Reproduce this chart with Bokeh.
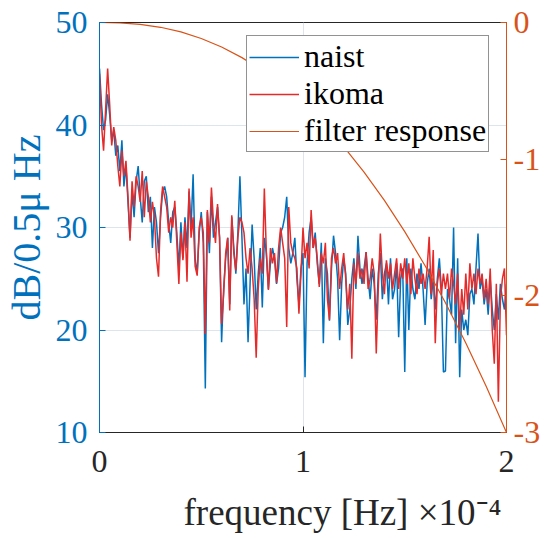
from bokeh.plotting import figure
from bokeh.models import Range1d, LinearAxis, Legend, LegendItem, Title, FixedTicker
from bokeh.embed import file_html
from bokeh.resources import INLINE

# ---------------- data ----------------
# frequency axis in units of 1e-4 Hz, one sample every 0.01
freq = [round(i * 0.01, 2) for i in range(201)]

naist = [
    45.5, 42.0, 39.5, 40.5, 43.0, 41.0, 38.5, 39.5, 37.0, 38.0,
    35.5, 38.5, 34.0, 36.0, 32.5, 29.0, 33.5, 31.0, 34.5, 36.0,
    33.0, 30.5, 34.5, 35.0, 31.5, 33.0, 28.0, 32.0, 30.5, 27.5,
    31.0, 33.5, 34.0, 33.0, 30.5, 28.5, 31.5, 32.0, 29.5, 26.0,
    30.5, 27.0, 31.0, 28.0, 33.5, 30.0, 35.2, 27.0, 25.5, 29.5,
    31.5, 28.5, 14.3, 31.5, 27.5, 33.0, 29.0, 30.5, 32.0, 29.0,
    18.8, 24.0, 27.0, 29.0, 22.5, 31.0, 28.0, 25.5, 29.5, 35.0,
    29.0, 22.5, 26.0, 18.8, 24.5, 30.3, 27.0, 22.0, 25.5, 28.0,
    22.2, 29.0, 27.5, 24.0, 26.5, 28.0, 27.0, 24.5, 26.0, 29.5,
    30.0, 31.0, 33.0, 28.0, 26.5, 27.5, 29.0, 25.0, 22.5, 26.0,
    27.5, 15.4, 26.5, 29.5, 31.0, 28.0, 29.5, 26.5, 24.5, 28.5,
    18.7, 27.0, 25.5, 20.9, 26.0, 29.2, 27.5, 25.0, 19.0, 24.5,
    27.0, 25.5, 20.5, 22.0, 25.0, 27.0, 24.0, 29.2, 26.0, 24.5,
    26.0, 27.6, 25.0, 23.0, 26.0, 24.5, 21.0, 25.5, 27.5, 23.0,
    25.5, 26.5, 22.5, 27.0, 23.0, 24.0, 26.5, 19.3, 25.0, 26.0,
    15.9, 27.0, 20.0, 26.0, 24.0, 23.0, 25.5, 24.0, 26.5, 24.0,
    20.5, 24.5, 26.0, 23.0, 25.0, 22.0, 25.0, 27.0, 24.0, 15.9,
    16.0, 24.0, 23.0, 21.5, 30.0, 18.7, 27.0, 15.4, 22.0, 20.0,
    21.0, 19.5, 23.5, 24.0, 22.5, 26.0, 29.4, 24.0, 25.0, 22.5,
    24.0, 21.5, 25.0, 22.0, 20.0, 23.5, 21.0, 24.5, 23.0, 22.0,
    24.5,
]

ikoma = [
    45.0, 40.0, 37.5, 41.5, 45.5, 42.0, 38.0, 39.8, 38.5, 36.0,
    34.0, 37.5, 35.0, 36.5, 33.0, 28.7, 34.5, 32.0, 35.0, 34.0,
    32.5, 35.5, 31.0, 34.5, 33.0, 30.5, 32.5, 31.0, 27.0, 25.2,
    31.5, 34.0, 33.0, 32.0, 29.5, 31.0, 30.0, 32.6, 28.5, 24.5,
    29.5, 26.8, 30.5, 24.7, 33.8, 29.0, 31.0, 26.2, 25.3, 30.0,
    31.0, 29.5, 19.6, 31.7, 28.5, 33.9, 30.5, 28.5, 32.3, 29.0,
    20.6, 23.5, 27.5, 29.0, 21.9, 31.2, 27.5, 25.8, 29.0, 31.0,
    30.5, 29.5, 27.0, 25.5, 28.0, 26.0, 23.0, 17.3, 24.0, 27.0,
    25.5, 33.8, 27.5, 23.9, 28.0, 26.5, 27.5, 24.6, 28.0, 30.0,
    28.5, 27.0, 20.3, 32.0, 28.5, 27.5, 27.0, 26.0, 21.6, 25.5,
    30.0, 27.0, 28.5, 26.0, 31.7, 28.0, 29.0, 27.0, 24.2, 27.5,
    26.5, 28.5, 23.0, 21.0, 27.0, 28.0, 26.5, 27.5, 24.0, 26.0,
    27.5, 25.0, 22.0, 24.5, 17.2, 26.5, 24.5, 27.5, 25.0, 26.0,
    24.5, 27.6, 24.0, 25.0, 27.0, 25.5, 17.7, 24.0, 29.4, 25.5,
    23.5, 26.8, 25.0, 26.5, 24.0, 25.5, 27.0, 24.0, 26.5, 25.0,
    27.0, 24.5, 26.5, 23.5, 27.0, 25.0, 23.5, 26.0, 24.5, 25.5,
    24.0, 26.0, 29.1, 23.5, 27.8, 18.7, 24.5, 26.0, 23.5, 25.5,
    24.0, 25.5, 23.0, 26.0, 24.5, 22.5, 25.5, 20.0, 24.0, 21.5,
    25.5, 22.0, 26.5, 24.0, 25.5, 23.5, 26.0, 24.5, 25.5, 23.0,
    25.0, 22.5, 26.0, 20.0, 16.7, 24.5, 13.0, 23.0, 25.0, 26.0,
    19.5,
]

filt_freq = [round(i * 0.1, 1) for i in range(21)]
filter_response = [0.0, -0.003, -0.014, -0.035, -0.069, -0.117, -0.179, -0.257,
                   -0.352, -0.463, -0.593, -0.741, -0.908, -1.095, -1.302, -1.530,
                   -1.780, -2.051, -2.345, -2.661, -3.0]

x_ticks = [0, 1, 2]
left_ticks = [10, 20, 30, 40, 50]
right_ticks = [-3, -2, -1, 0]
right_tick_labels = {-3: "-3", -2: "-2", -1: "-1", 0: "0"}

# ---------------- styling ----------------
FONT = "Liberation Serif"
BLUE = "#0072BD"
ORANGE = "#D95319"
RED = "#E62A2A"
DARK = "#262626"

p = figure(frame_width=407, frame_height=410,
           x_range=Range1d(0, 2), y_range=Range1d(10, 50),
           output_backend="svg", toolbar_location=None,
           min_border_left=96, min_border_right=45,
           min_border_top=22, min_border_bottom=106)
p.extra_y_ranges = {"filt": Range1d(-3, 0)}
p.background_fill_color = "white"
p.border_fill_color = "white"
p.outline_line_color = DARK
p.outline_line_width = 1

r_naist = p.line(freq, naist, line_color=BLUE, line_width=1.5)
r_ikoma = p.line(freq, ikoma, line_color=RED, line_width=1.5)
r_filt = p.line(filt_freq, filter_response, line_color=ORANGE, line_width=1.2,
                y_range_name="filt")

# bottom axis
xa = p.xaxis[0]
xa.ticker = FixedTicker(ticks=x_ticks)
# left axis
ya = p.yaxis[0]
ya.ticker = FixedTicker(ticks=left_ticks)
ya.axis_label = "dB/0.5μ Hz"
# right axis
ra = LinearAxis(y_range_name="filt", ticker=FixedTicker(ticks=right_ticks))
ra.major_label_overrides = right_tick_labels
p.add_layout(ra, "right")

for ax, col in ((xa, DARK), (ya, BLUE), (ra, ORANGE)):
    ax.axis_line_color = col
    ax.axis_line_width = 1
    ax.major_tick_line_color = col
    ax.major_tick_in = 6
    ax.major_tick_out = 0
    ax.minor_tick_line_color = None
    ax.major_label_text_font = FONT
    ax.major_label_text_font_size = "32px"
    ax.major_label_text_color = col
    ax.axis_label_text_font = FONT
    ax.axis_label_text_font_style = "normal"
    ax.axis_label_text_color = col

xa.major_label_standoff = 18
ya.major_label_standoff = 12
ya.axis_label_text_font_size = "40px"
ya.axis_label_standoff = 4
ra.major_label_standoff = 7

p.xgrid.grid_line_color = "#DDE5EC"
p.ygrid.grid_line_color = "#DDE5EC"
p.xgrid.grid_line_width = 1
p.ygrid.grid_line_width = 1

# x-axis label with its exponent, placed in the panel below the axis
xlabel = Title(text="frequency [Hz]  ×10⁻⁴", align="left", offset=76,
               text_font=FONT, text_font_size="37px", text_font_style="normal",
               text_color=DARK, standoff=14, padding=8)
p.add_layout(xlabel, "below")

legend = Legend(items=[LegendItem(label="naist", renderers=[r_naist]),
                       LegendItem(label="ikoma", renderers=[r_ikoma]),
                       LegendItem(label="filter response", renderers=[r_filt])],
                location=(147, 280))
legend.label_text_font = FONT
legend.label_text_font_size = "32px"
legend.label_text_color = "black"
legend.glyph_width = 50
legend.label_standoff = 5
legend.padding = 2
legend.spacing = 0
legend.margin = 0
legend.border_line_color = DARK
legend.border_line_width = 1
legend.background_fill_alpha = 1
p.add_layout(legend)

open("out.html", "w").write(file_html(p, INLINE))
